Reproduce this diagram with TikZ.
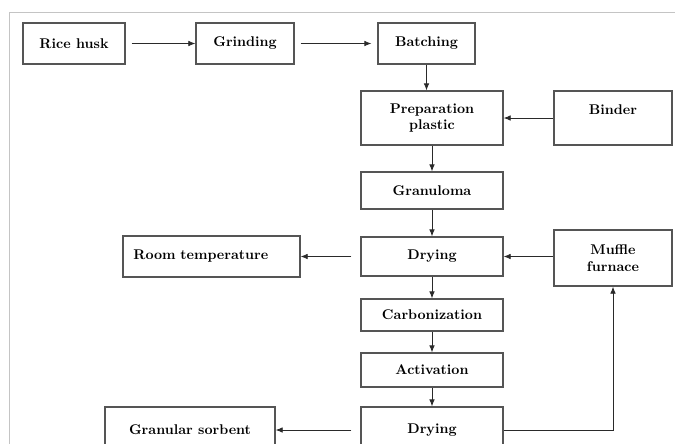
\documentclass[tikz,border=0pt]{standalone}
\usetikzlibrary{arrows.meta}

\definecolor{boxgray}{HTML}{555555}
\definecolor{linegray}{HTML}{2A2A2A}
\definecolor{framegray}{HTML}{C4C4C4}

\tikzset{
  stage/.style={draw=boxgray, line width=0.9pt, font=\bfseries, align=center, inner sep=2pt},
  flow/.style={->, draw=linegray, line width=0.6pt},
}

\begin{document}
\begin{tikzpicture}[x=0.025cm, y=-0.025cm, >={Latex[length=5pt,width=4pt]}]
        \useasboundingbox (0,0) rectangle (675,443);
        \clip (0,0) rectangle (675,443);
        \draw[framegray, line width=0.6pt] (9,460) -- (9,12) -- (690,12);

        \node[stage, minimum width=2.55cm, minimum height=1.025cm] at (74,43.5) (rice) {Rice husk};
        \node[stage, minimum width=2.45cm, minimum height=1.025cm] at (245,43.5) (grind) {Grinding};
        \node[stage, minimum width=2.425cm, minimum height=1.025cm] at (426.5,43.5) (batch) {Batching};
        \node[stage, minimum width=3.55cm, minimum height=1.35cm] at (432,118) (prep) {Preparation\\plastic};
        \node[stage, minimum width=2.95cm, minimum height=1.35cm] at (613,118) (binder) {Binder\\~};
        \node[stage, minimum width=3.55cm, minimum height=0.925cm] at (432,190.5) (granul) {Granuloma};
        \node[stage, minimum width=3.55cm, minimum height=0.975cm] at (432,256.5) (dry1) {Drying};
        \node[stage, minimum width=4.425cm, minimum height=1.025cm, text width=3.9cm, align=left] at (211.5,256.5) (room) {Room temperature};
        \node[stage, minimum width=2.95cm, minimum height=1.4cm] at (613,258) (muffle) {Muffle\\furnace};
        \node[stage, minimum width=3.55cm, minimum height=0.8cm] at (432,315) (carb) {Carbonization};
        \node[stage, minimum width=3.55cm, minimum height=0.85cm] at (432,370) (activ) {Activation};
        \node[stage, minimum width=3.55cm, minimum height=1.15cm] at (432,430) (dry2) {Drying};
        \node[stage, minimum width=4.25cm, minimum height=1.15cm] at (190,430) (granular) {Granular sorbent};

        \draw[flow, shorten <=0.15cm] (rice) -- (grind);
        \draw[flow, shorten <=0.15cm, shorten >=0.15cm] (grind) -- (batch);
        \draw[flow] (batch.south) -- (batch.south |- prep.north);
        \draw[flow] (binder) -- (prep);
        \draw[flow] (prep) -- (granul);
        \draw[flow] (granul) -- (dry1);
        \draw[flow] (muffle.west |- dry1) -- (dry1);
        \draw[flow, shorten <=0.225cm] (dry1) -- (room);
        \draw[flow] (dry1) -- (carb);
        \draw[flow] (carb) -- (activ);
        \draw[flow] (activ) -- (dry2);
        \draw[flow, shorten <=0.225cm] (dry2) -- (granular);
        \draw[flow] (dry2.east) -| (muffle.south);
    \end{tikzpicture}
\end{document}
